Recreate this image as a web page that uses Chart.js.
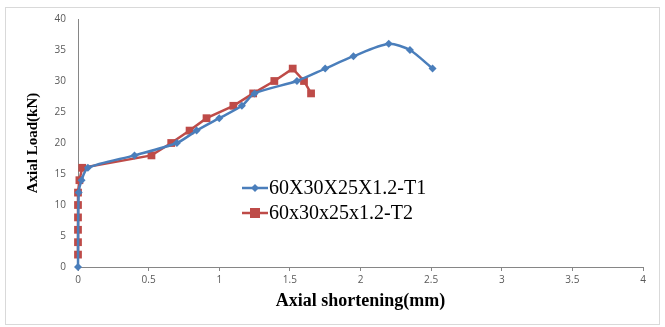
<!DOCTYPE html>
<html>
<head>
<meta charset="utf-8">
<script src="https://cdn.jsdelivr.net/npm/chart.js@4.4.1/dist/chart.umd.min.js"></script>
<style>
  html, body { margin: 0; padding: 0; background: #fff; }
  #wrap { width: 665px; height: 327px; }
</style>
</head>
<body>
<div id="wrap"><canvas id="chart" width="665" height="327"></canvas></div>
<script>
  // values
  const t1Shortening = [0, 0.005, 0.025, 0.07, 0.4, 0.7, 0.84, 1.0, 1.16, 1.25, 1.55, 1.75, 1.95, 2.2, 2.35, 2.51];
  const t1Load = [0, 12, 14, 16, 18, 20, 22, 24, 26, 28, 30, 32, 34, 36, 35, 32];
  const t2Shortening = [0, 0, 0, 0, 0, 0, 0.01, 0.03, 0.52, 0.66, 0.79, 0.91, 1.1, 1.24, 1.39, 1.52, 1.6, 1.65];
  const t2Load = [2, 4, 6, 8, 10, 12, 14, 16, 18, 20, 22, 24, 26, 28, 30, 32, 30, 28];
  const seriesNames = ["60X30X25X1.2-T1", "60x30x25x1.2-T2"];
  const xTicks = [0, 0.5, 1, 1.5, 2, 2.5, 3, 3.5, 4];
  const yTicks = [0, 5, 10, 15, 20, 25, 30, 35, 40];

  const BLUE = "#4a7ebb";
  const RED = "#be4b48";
  const tickFont = { family: "'Open Sans', 'Liberation Sans', sans-serif", size: 10 };
  const serif = "'Liberation Serif', 'Times New Roman', serif";

  const pts = (xs, ys) => xs.map((x, i) => ({ x, y: ys[i] }));

  // Excel-style legend inside the plot: line with marker through it
  const insideLegend = {
    id: "insideLegend",
    afterDraw(chart) {
      const ctx = chart.ctx;
      ctx.save();
      ctx.strokeStyle = "#d9d9d9";
      ctx.lineWidth = 1;
      ctx.strokeRect(5.5, 7.5, 654, 317);
      const rows = [188, 213];
      chart.data.datasets.forEach((ds, i) => {
        const y = rows[i];
        ctx.strokeStyle = ds.borderColor;
        ctx.lineWidth = 2.5;
        ctx.beginPath();
        ctx.moveTo(242, y);
        ctx.lineTo(268, y);
        ctx.stroke();
        ctx.fillStyle = ds.pointBackgroundColor;
        ctx.beginPath();
        if (ds.pointStyle === "rect") {
          ctx.rect(255 - 5, y - 5, 10, 10);
        } else {
          ctx.moveTo(255, y - 4); ctx.lineTo(259, y); ctx.lineTo(255, y + 4); ctx.lineTo(251, y);
          ctx.closePath();
        }
        ctx.fill();
        ctx.fillStyle = "#000";
        ctx.font = "20px " + serif;
        ctx.textBaseline = "middle";
        ctx.fillText(seriesNames[i], 269, y + 1);
      });
      ctx.restore();
    }
  };

  new Chart(document.getElementById("chart"), {
    type: "scatter",
    data: {
      datasets: [
        {
          label: seriesNames[0], data: pts(t1Shortening, t1Load), showLine: true, tension: 0.25, clip: false,
          borderColor: BLUE, backgroundColor: BLUE, pointBackgroundColor: BLUE, pointBorderColor: BLUE,
          borderWidth: 2.5, pointStyle: "rectRot", pointRadius: 4, pointBorderWidth: 0
        },
        {
          label: seriesNames[1], data: pts(t2Shortening, t2Load), showLine: true, tension: 0, clip: false,
          borderColor: RED, backgroundColor: RED, pointBackgroundColor: RED, pointBorderColor: RED,
          borderWidth: 2.5, pointStyle: "rect", pointRadius: 5.5, pointBorderWidth: 0
        }
      ]
    },
    options: {
      responsive: false, animation: false,
      layout: { padding: { left: 20, top: 19, right: 22, bottom: 11 } },
      plugins: { legend: { display: false }, tooltip: { enabled: false } },
      scales: {
        x: {
          type: "linear", min: 0, max: 4,
          afterBuildTicks: s => { s.ticks = xTicks.map(v => ({ value: v })); },
          afterFit: s => { s.height = 49; },
          grid: { display: true, drawOnChartArea: false, drawTicks: true, tickLength: 4, color: "#868686" },
          border: { color: "#868686", width: 1 },
          ticks: { color: "#595959", font: tickFont, padding: 3, maxRotation: 0, callback: v => String(v) },
          title: { display: true, text: "Axial shortening(mm)", color: "#000", font: { family: serif, size: 18, weight: "bold" }, padding: { top: 4 } }
        },
        y: {
          type: "linear", min: 0, max: 40,
          afterBuildTicks: s => { s.ticks = yTicks.map(v => ({ value: v })); },
          afterFit: s => { s.width = 58; },
          grid: { display: false, drawTicks: true, tickLength: 0 },
          border: { color: "#868686", width: 1 },
          ticks: { color: "#595959", font: tickFont, padding: 12, callback: v => String(v) },
          title: { display: true, text: "Axial Load(kN)", color: "#000", font: { family: serif, size: 15, weight: "bold" }, padding: { bottom: 6 } }
        }
      }
    },
    plugins: [insideLegend]
  });
</script>
</body>
</html>
